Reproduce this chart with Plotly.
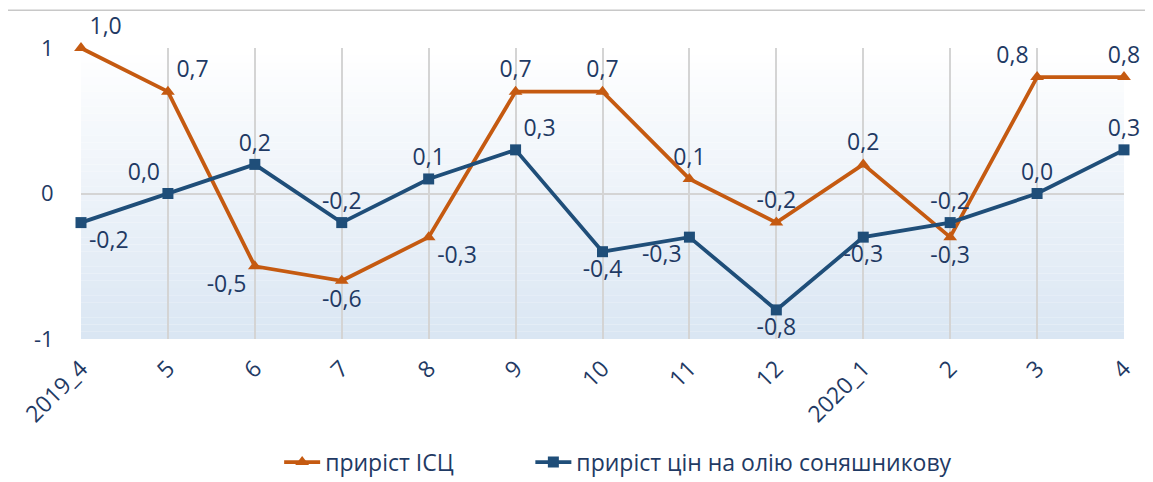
import plotly.graph_objects as go

categories = ["2019_4", "5", "6", "7", "8", "9", "10", "11", "12", "2020_1", "2", "3", "4"]
cpi_growth = [1.0, 0.7, -0.5, -0.6, -0.3, 0.7, 0.7, 0.1, -0.2, 0.2, -0.3, 0.8, 0.8]
oil_growth = [-0.2, 0.0, 0.2, -0.2, 0.1, 0.3, -0.4, -0.3, -0.8, -0.3, -0.2, 0.0, 0.3]
series_names = ["приріст ІСЦ", "приріст цін на олію соняшникову"]

cpi_pos = ["top right", "top right", "bottom left", "bottom center", "bottom right", "top center",
           "top center", "top center", "top center", "top center", "bottom center", "top left", "top center"]
oil_pos = ["bottom right", "top left", "top center", "top center", "top center", "top right",
           "bottom center", "bottom left", "bottom center", "bottom center", "top center", "top center", "top center"]

TXT = "#1f3a64"
ORANGE = "#c55a11"
NAVY = "#1f4e79"
FONT = "Open Sans"
FS = 23

def fmt(v):
    return f"{v:.1f}".replace(".", ",")

fig = go.Figure()

fig.add_trace(go.Scatter(
    x=categories, y=cpi_growth, name=series_names[0] + "\u00a0" * 12, mode="lines+markers+text",
    line=dict(color=ORANGE, width=3.8),
    marker=dict(symbol="triangle-up", size=12, color=ORANGE),
    text=[fmt(v) for v in cpi_growth], textposition=cpi_pos,
    textfont=dict(family=FONT, size=FS, color=TXT), cliponaxis=False,
))
fig.add_trace(go.Scatter(
    x=categories, y=oil_growth, name=series_names[1], mode="lines+markers+text",
    line=dict(color=NAVY, width=3.8),
    marker=dict(symbol="square", size=11, color=NAVY),
    text=[fmt(v) for v in oil_growth], textposition=oil_pos,
    textfont=dict(family=FONT, size=FS, color=TXT), cliponaxis=False,
))

# gradient background stripes
shapes = []
n = 40
top = (255, 255, 255)
bot = (218, 230, 243)
for i in range(n):
    t = (i + 0.5) / n
    c = tuple(int(round(top[k] + (bot[k] - top[k]) * t)) for k in range(3))
    shapes.append(dict(type="rect", xref="paper", yref="paper", layer="below",
                       x0=0, x1=1, y0=1 - (i + 1) / n, y1=1 - i / n,
                       fillcolor=f"rgb{c}", line=dict(width=0)))
# outer frame
shapes.append(dict(type="rect", xref="paper", yref="paper", layer="below",
                   x0=-0.071, x1=1.06, y0=-0.7, y1=1.13,
                   fillcolor="rgba(0,0,0,0)", line=dict(color="#c8c8c8", width=1.5)))

fig.update_layout(
    width=1153, height=482,
    margin=dict(l=73, r=37, t=40, b=151, autoexpand=False),
    paper_bgcolor="white", plot_bgcolor="rgba(0,0,0,0)",
    font=dict(family=FONT, size=FS, color=TXT),
    shapes=shapes,
    showlegend=True,
    legend=dict(orientation="h", x=0.515, xanchor="center", y=-0.423, yanchor="middle",
                font=dict(family=FONT, size=FS, color=TXT), itemwidth=36,
                bgcolor="rgba(0,0,0,0)"),
)
fig.update_xaxes(
    type="category", range=[0, 12], showgrid=True, gridcolor="#d4d4d4", gridwidth=1.5,
    tickangle=-45, tickfont=dict(family=FONT, size=FS, color=TXT), automargin=False,
    showline=False, zeroline=False, ticks="outside", ticklen=6, tickcolor="rgba(0,0,0,0)",
)
fig.update_yaxes(
    range=[-1, 1], tickvals=[-1, 0, 1], ticktext=["-1", "0", "1"], automargin=False,
    showgrid=False, zeroline=True, zerolinecolor="#d4d4d4", zerolinewidth=1.5,
    tickfont=dict(family=FONT, size=FS - 1, color=TXT), ticks="outside", ticklen=22,
    tickcolor="rgba(0,0,0,0)", showline=False,
)

fig.write_html("out.html")
